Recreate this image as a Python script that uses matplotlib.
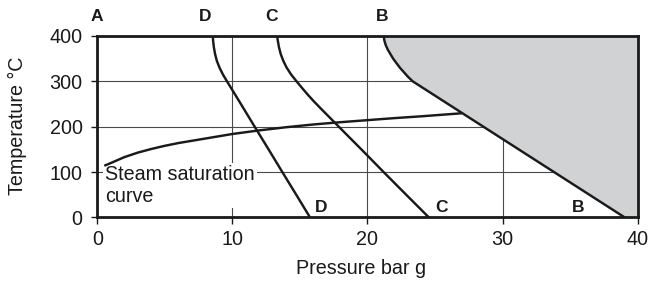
import matplotlib
matplotlib.use('Agg')
import matplotlib.pyplot as plt

plt.rcParams['font.family'] = ['Liberation Sans', 'DejaVu Sans']

# steam saturation curve (pressure bar g, temperature degC)
sat_p = [0.6, 1, 2, 3, 4, 5, 6, 7, 8, 10, 12, 14, 16, 18, 20, 22, 24, 26.9]
sat_t = [115, 120, 133, 143, 151, 158, 164, 169, 174, 184, 192, 199, 205, 210, 214.5, 219, 223, 229.5]

# limit lines D, C, B (pressure bar g vs temperature degC)
d_p = [8.55, 8.57, 8.63, 8.72, 8.85, 9.05, 9.3, 9.6, 9.91, 10.22, 10.63, 11.14, 11.65, 12.68, 13.7, 14.73, 15.75]
d_t = [400, 390, 375, 360, 345, 330, 315, 300, 285, 270, 250, 225, 200, 150, 100, 50, 0]
c_p = [13.32, 13.36, 13.45, 13.58, 13.77, 14.02, 14.35, 14.75, 15.17, 15.6, 16.06, 16.55, 17.88, 19.55, 21.2, 22.87, 24.55]
c_t = [400, 390, 375, 360, 345, 330, 315, 300, 285, 270, 255, 240, 200, 150, 100, 50, 0]
b_p = [21.2, 21.25, 21.35, 21.5, 21.7, 21.9, 22.15, 22.4, 22.7, 23.0, 23.35, 39.05]
b_t = [400, 390, 380, 370, 360, 350, 340, 330, 320, 310, 300, 0]

x_ticks = [0, 10, 20, 30, 40]
y_ticks = [0, 100, 200, 300, 400]

top_labels = ['A', 'D', 'C', 'B']
top_label_p = [0, 8.0, 12.9, 21.1]
bottom_labels = ['D', 'C', 'B']
bottom_label_p = [16.6, 25.5, 35.6]

INK = '#1a1a1a'
FS = 14.2

fig = plt.figure(figsize=(6.5, 2.81), dpi=100)
ax = fig.add_axes([0.1497, 0.226, 0.8313, 0.646])

ax.set_xlim(0, 40)
ax.set_ylim(0, 400)
ax.set_xticks(x_ticks)
ax.set_yticks(y_ticks)
ax.tick_params(axis='both', labelsize=FS, colors=INK, width=1.0)
ax.tick_params(axis='x', length=5, pad=4)
ax.tick_params(axis='y', length=4.5, pad=6)
ax.grid(True, color='#4a4a4a', linewidth=0.8)
ax.set_axisbelow(True)
for sp in ax.spines.values():
    sp.set_linewidth(2.0)
    sp.set_color(INK)
    sp.set_zorder(5)

# operating region beyond line B
ax.fill_betweenx(b_t, b_p, 40, color='#d1d2d4', zorder=2, linewidth=0)

for xs, ys in [(sat_p, sat_t), (d_p, d_t), (c_p, c_t), (b_p, b_t)]:
    ax.plot(xs, ys, color=INK, lw=1.75, zorder=3, solid_joinstyle='round')

ax.text(0.6, 115, 'Steam saturation\ncurve', fontsize=FS, color=INK,
        ha='left', va='top', zorder=2.5,
        bbox=dict(boxstyle='square,pad=0.1', fc='white', ec='none'))

for lab, p in zip(top_labels, top_label_p):
    ax.text(p, 444, lab, fontsize=12.5, fontweight='bold', color=INK,
            ha='center', va='center', clip_on=False)
for lab, p in zip(bottom_labels, bottom_label_p):
    ax.text(p, 22, lab, fontsize=12.5, fontweight='bold', color=INK,
            ha='center', va='center', zorder=4)

ax.set_xlabel('Pressure bar g', fontsize=FS, color=INK)
ax.set_ylabel('Temperature °C', fontsize=FS, color=INK)
ax.xaxis.set_label_coords(0.489, -0.231)
ax.yaxis.set_label_coords(-0.130, 0.507)

fig.savefig('out.png', dpi=100)
